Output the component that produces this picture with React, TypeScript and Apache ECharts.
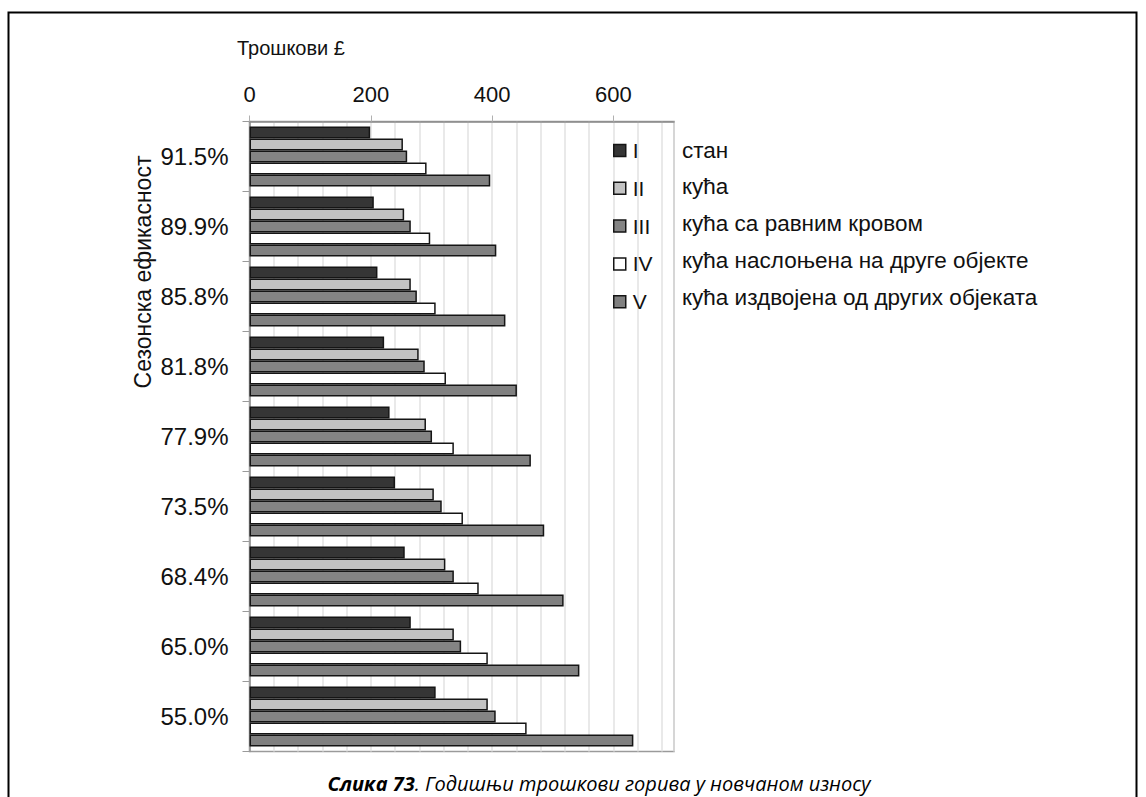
import React, { useEffect, useRef } from "react";
import * as echarts from "echarts";

const categories = ["91.5%", "89.9%", "85.8%", "81.8%", "77.9%", "73.5%", "68.4%", "65.0%", "55.0%"];
const seriesNames = ["I", "II", "III", "IV", "V"];
const seriesDescriptions = [
  "стан",
  "кућа",
  "кућа са равним кровом",
  "кућа наслоњена на друге објекте",
  "кућа издвојена од других објеката",
];
const valuesI = [199, 205, 211, 222, 231, 240, 256, 266, 307];
const valuesII = [253, 255, 266, 279, 291, 304, 323, 337, 393];
const valuesIII = [260, 266, 276, 289, 301, 317, 337, 349, 406];
const valuesIV = [292, 298, 307, 324, 337, 352, 378, 393, 457];
const valuesV = [397, 407, 422, 441, 464, 486, 518, 544, 633];
const xTickValues = [0, 200, 400, 600];
const xMax = 700;
const xAxisTitle = "Трошкови £";
const yAxisTitle = "Сезонска ефикасност";
const captionBold = "Слика 73";
const captionRest = ". Годишњи трошкови горива у новчаном износу";

const seriesValues = [valuesI, valuesII, valuesIII, valuesIV, valuesV];
const seriesColors = ["#353535", "#c3c3c3", "#848484", "#ffffff", "#808080"];

const FONT = "Liberation Sans, Arial, sans-serif";

export default function App() {
  const ref = useRef<HTMLDivElement>(null);

  useEffect(() => {
    if (!ref.current) return;
    const chart = echarts.init(ref.current, undefined, { renderer: "svg" });

    const legendTop = 140;
    const legendStep = 36.8;

    const option: any = {
      animation: false,
      backgroundColor: "#ffffff",
      grid: {
        left: 249.5,
        top: 121.5,
        right: 1146 - 674,
        bottom: 797 - 751.5,
        containLabel: false,
        outerBoundsMode: "none",
        show: true,
        borderColor: "#9a9a9a",
        borderWidth: 1.5,
        backgroundColor: "transparent",
      },
      xAxis: [
        {
          type: "value",
          position: "top",
          min: 0,
          max: xMax,
          interval: 200,
          axisLine: { show: true, lineStyle: { color: "#8c8c8c", width: 1.5 } },
          axisTick: {
            show: true,
            length: 6,
            lineStyle: { color: "#b0b0b0" },
            customValues: xTickValues,
          },
          axisLabel: {
            show: true,
            margin: 16,
            color: "#111",
            fontSize: 22,
            fontFamily: FONT,
            customValues: xTickValues,
          },
          splitLine: { show: false },
        },
        {
          type: "value",
          position: "bottom",
          min: 0,
          max: xMax,
          interval: 40,
          axisLine: { show: false },
          axisTick: { show: false },
          axisLabel: { show: false },
          splitLine: { show: true, lineStyle: { color: "#e2e2e2", width: 1.5 } },
        },
      ],
      yAxis: {
        type: "category",
        inverse: true,
        data: categories,
        axisLine: { show: true, lineStyle: { color: "#8c8c8c", width: 1.5 } },
        axisTick: { show: true, length: 7, lineStyle: { color: "#9a9a9a" } },
        axisLabel: {
          margin: 21,
          color: "#111",
          fontSize: 24,
          fontFamily: FONT,
        },
        splitLine: { show: false },
      },
      legend: {
        data: seriesNames,
        orient: "vertical",
        left: 613,
        top: legendTop,
        padding: 0,
        itemWidth: 12,
        itemHeight: 12,
        itemGap: legendStep - 20,
        icon: "rect",
        itemStyle: { borderColor: "#151515", borderWidth: 1.5 },
        textStyle: {
          fontSize: 21,
          lineHeight: 20,
          fontFamily: FONT,
          color: "#111",
          padding: [0, 0, 0, 2],
        },
      },
      series: seriesNames.map((name, i) => ({
        name,
        type: "bar",
        xAxisIndex: 0,
        data: seriesValues[i],
        barWidth: 12,
        barGap: "0%",
        itemStyle: {
          color: seriesColors[i],
          borderColor: "#151515",
          borderWidth: 1.5,
        },
      })),
      graphic: [
        {
          type: "rect",
          shape: { x: 8.5, y: 12.5, width: 1128, height: 820 },
          style: { fill: "none", stroke: "#000", lineWidth: 2 },
          silent: true,
        },
        {
          type: "text",
          x: 237,
          y: 48,
          style: {
            text: xAxisTitle,
            fontSize: 20,
            fontFamily: FONT,
            fill: "#111",
            verticalAlign: "middle",
            align: "left",
          },
        },
        {
          type: "text",
          x: 143,
          y: 272,
          rotation: Math.PI / 2,
          style: {
            text: yAxisTitle,
            fontSize: 23,
            fontFamily: FONT,
            fill: "#111",
            align: "center",
            verticalAlign: "middle",
          },
        },
        ...seriesDescriptions.map((d, i) => ({
          type: "text",
          x: 682,
          y: legendTop + 10 + legendStep * i,
          style: {
            text: d,
            fontSize: 22.5,
            fontFamily: FONT,
            fill: "#111",
            align: "left",
            verticalAlign: "middle",
          },
        })),
        {
          type: "text",
          x: 599,
          y: 783,
          style: {
            text: `{b|${captionBold}}{n|${captionRest}}`,
            align: "center",
            verticalAlign: "middle",
            rich: {
              b: {
                fontSize: 20,
                fontWeight: "bold",
                fontStyle: "italic",
                fontFamily: "Open Sans, sans-serif",
                fill: "#000",
              },
              n: {
                fontSize: 20,
                fontStyle: "italic",
                fontFamily: "Open Sans, sans-serif",
                fill: "#000",
              },
            },
          },
        },
      ],
    };

    chart.setOption(option);
    return () => chart.dispose();
  }, []);

  return (
    <div
      ref={ref}
      style={{ position: "fixed", left: 0, top: 0, width: 1146, height: 797, background: "#fff" }}
    />
  );
}
